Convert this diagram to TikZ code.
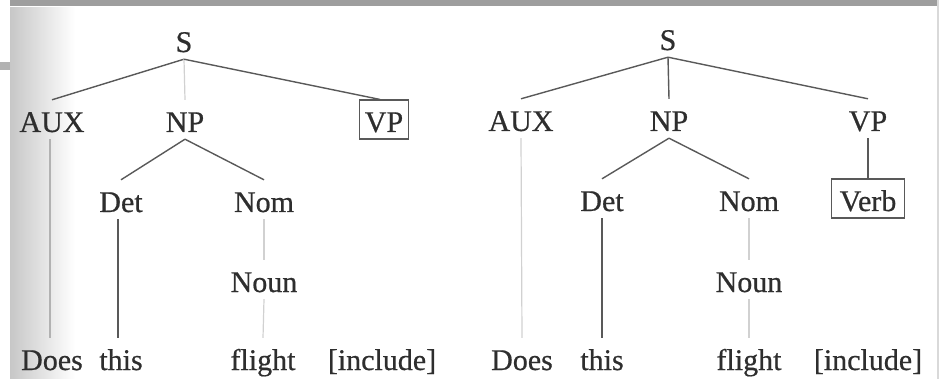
\documentclass[tikz,border=0pt]{standalone}
\usepackage{fontspec}
\setmainfont{Liberation Serif}
\begin{document}
\begin{tikzpicture}[x=1pt,y=-1pt,
  cat/.style={anchor=base,inner xsep=5pt,inner ysep=5pt,
    text height=27pt,text depth=2pt,text=black!82,
    font=\fontsize{30}{34}\selectfont\addfontfeature{FakeBold=0.6}},
  boxed/.style={cat,draw=black!65,line width=1.1pt},
  branch/.style={draw=black!65,line width=1.4pt},
  faint/.style={draw=black!30,line width=1.2pt},
  pale/.style={draw=black!18,line width=1.2pt}]
\useasboundingbox (0,0) rectangle (942,379);

% page edge and binding shadow of the scanned sheet
\fill[left color=black!22,right color=white] (10,8) rectangle (75,379);
\fill[black!38] (10,0) rectangle (938,6);
\fill[black!30] (0,62) rectangle (10,70);
\draw[black!15,line width=1.5pt] (938,0) -- (938,379);

% ---- left tree: VP predicted ----
\node[cat] (S1)   at (184,52)  {S};
\node[cat] (AUX1) at (52,132)  {AUX};
\node[cat] (NP1)  at (185,132) {NP};
\node[boxed] (VP1) at (384,132) {VP};
\node[cat] (Det1) at (121,212) {Det};
\node[cat] (Nom1) at (264,212) {Nom};
\node[cat] (Noun1) at (264,292) {Noun};
\node[cat] (w11) at (52,370)  {Does};
\node[cat] (w12) at (121,370) {this};
\node[cat] (w13) at (263,370) {flight};
\node[cat] (w14) at (382,370) {[include]};

\draw[branch] (S1.south) -- (AUX1.north);
\draw[pale]   (S1.south) -- (NP1.north);
\draw[branch] (S1.south) -- ([xshift=-4pt]VP1.north);
\draw[branch] (NP1.south) -- (Det1.north);
\draw[branch] (NP1.south) -- (Nom1.north);
\draw[faint]  ([xshift=-2pt]AUX1.south) -- ([xshift=-2pt]w11.north);
\draw[branch] ([xshift=-3pt]Det1.south) -- ([xshift=-3pt]w12.north);
\draw[pale]   (Nom1.south) -- (Noun1.north);
\draw[pale]   (Noun1.south) -- (w13.north);

% ---- right tree: VP expanded to Verb ----
\node[cat] (S2)   at (668,50)  {S};
\node[cat] (AUX2) at (521,131) {AUX};
\node[cat] (NP2)  at (669,131) {NP};
\node[cat] (VP2)  at (868,131) {VP};
\node[cat] (Det2) at (602,211) {Det};
\node[cat] (Nom2) at (749,211) {Nom};
\node[boxed,inner xsep=8pt] (Verb2) at (868,211) {Verb};
\node[cat] (Noun2) at (749,292) {Noun};
\node[cat] (w21) at (522,370) {Does};
\node[cat] (w22) at (602,370) {this};
\node[cat] (w23) at (749,370) {flight};
\node[cat] (w24) at (868,370) {[include]};

\draw[branch] (S2.south) -- (AUX2.north);
\draw[branch] (S2.south) -- (NP2.north);
\draw[branch] (S2.south) -- (VP2.north);
\draw[branch] (NP2.south) -- (Det2.north);
\draw[branch] (NP2.south) -- (Nom2.north);
\draw[branch] (VP2.south) -- (Verb2.north);
\draw[pale]   (AUX2.south) -- (w21.north);
\draw[branch] (Det2.south) -- (w22.north);
\draw[pale]   (Nom2.south) -- (Noun2.north);
\draw[pale]   (Noun2.south) -- (w23.north);
\end{tikzpicture}
\end{document}
